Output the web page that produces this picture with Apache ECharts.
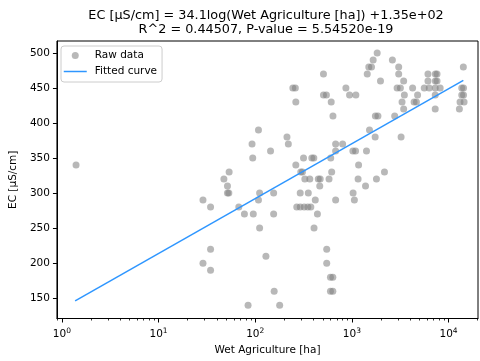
<!DOCTYPE html>
<html><head><meta charset="utf-8">
<script src="https://cdn.jsdelivr.net/npm/echarts@6/dist/echarts.min.js"></script>
<style>html,body{margin:0;padding:0;background:#fff}#c{width:480px;height:361px}</style>
</head><body><div id="c"></div>
<script>
const agricultureHa = [1.40,28.8,34.5,53.7,47.4,51.6,51.6,53.3,34.5,28.8,34.5,67.6,77.3,95.5,111,108,155,155,111,129,157,84.3,179,108,92.7,94.2,144,213,220,263,316,385,404,245,260,263,508,508,545,611,637,867,946,1099,296,308,326,367,292,354,418,269,292,321,350,376,440,406,449,470,465,580,618,549,549,600,635,600,635,679,1029,1061,1159,604,679,802,679,1024,1091,1173,1416,1384,1795,2173,1521,1741,3228,1750,1860,2773,1827,1660,1496,1596,1442,1976,2624,3050,3050,3433,2937,3175,4248,3491,4784,3304,4400,4650,3433,5607,6124,6124,6310,7300,7600,7300,7600,7280,8190,7280,7280,14230,13700,14300,13700,14300,13150,14480,12950];
const ecValues = [340,290,280,330,320,310,300,300,220,200,190,280,270,270,300,290,300,270,250,210,160,140,140,390,370,350,360,380,370,340,350,350,350,450,450,430,470,440,440,430,410,450,440,440,330,330,320,320,300,300,290,280,280,280,280,280,270,250,320,320,310,320,330,220,200,180,180,160,160,290,300,290,320,350,370,370,360,360,360,340,360,310,320,330,390,380,380,410,410,410,500,490,480,480,470,460,490,480,470,460,450,450,450,440,440,430,430,430,420,450,470,460,450,470,470,460,460,450,450,440,420,480,450,450,440,440,430,430,420];
const fitX = [1.37, 14230];
const fitY = [146, 461];
const yTicks = [150,200,250,300,350,400,450,500];
const xMajorTicks = [1,10,100,1000,10000];
const xMinorTicks = [0.9,2,3,4,5,6,7,8,9,20,30,40,50,60,70,80,90,200,300,400,500,600,700,800,900,2000,3000,4000,5000,6000,7000,8000,9000,20000];
const titleLine1 = 'EC [µS/cm] = 34.1log(Wet Agriculture [ha]) +1.35e+02';
const titleLine2 = 'R^2 = 0.44507, P-value = 5.54520e-19';
const xName = 'Wet Agriculture [ha]';
const yName = 'EC [µS/cm]';

const FF = 'DejaVu Sans';
const FS = 10.5;
const LINE_COLOR = '#2e96ff';
const rawData = agricultureHa.map((x, i) => [x, ecValues[i]]);
const fitData = fitX.map((x, i) => [x, fitY[i]]);
const XMIN = 0.888, XMAX = 20175;

const chart = echarts.init(document.getElementById('c'), null, {renderer: 'canvas'});
chart.setOption({
  animation: false,
  grid: {left: 55, right: 2, top: 41, bottom: 38, show: true, borderColor: '#000', borderWidth: 1, backgroundColor: 'transparent'},
  graphic: [{
    type: 'text', x: 266, y: 9, z: 100,
    style: {text: titleLine1 + '\n' + titleLine2, font: '12.8px "DejaVu Sans"', textAlign: 'center', fill: '#000', lineHeight: 13.5}
  }],
  legend: {
    left: 61, top: 46, orient: 'vertical',
    itemWidth: 23, itemHeight: 7, itemGap: 4,
    padding: [3.5, 5, 4.5, 2],
    borderColor: '#cccccc', borderWidth: 1, borderRadius: 3,
    backgroundColor: 'rgba(255,255,255,0.8)',
    textStyle: {fontSize: FS, fontFamily: FF, color: '#000', lineHeight: 12, padding: [0, 0, 0, 3]},
    data: [
      {name: 'Raw data', icon: 'circle'},
      {name: 'Fitted curve', icon: 'line', itemStyle: {color: LINE_COLOR, borderColor: LINE_COLOR, borderWidth: 1.5}}
    ]
  },
  xAxis: [{
    type: 'log', logBase: 10, min: XMIN, max: XMAX,
    name: xName, nameLocation: 'middle', nameGap: 26.5,
    nameTextStyle: {fontSize: FS, fontFamily: FF, color: '#000'},
    axisLine: {show: true, onZero: false, lineStyle: {color: '#000', width: 1}},
    axisTick: {show: true, length: 4, lineStyle: {color: '#000'}, customValues: xMajorTicks},
    axisLabel: {
      show: true, margin: 8.5, customValues: xMajorTicks,
      formatter: v => '{b|10}{s|' + Math.round(Math.log10(v)) + '}',
      rich: {b: {fontSize: FS, fontFamily: FF, color: '#000', verticalAlign: 'bottom'},
             s: {fontSize: 7.5, fontFamily: FF, color: '#000', verticalAlign: 'bottom', padding: [0, 0, 5, 0]}}
    },
    splitLine: {show: false}, minorTick: {show: false}
  }, {
    type: 'log', logBase: 10, min: XMIN, max: XMAX, position: 'bottom',
    axisLine: {show: false},
    axisTick: {show: true, length: 2, lineStyle: {color: '#000', width: 0.8}, customValues: xMinorTicks},
    axisLabel: {show: false}, splitLine: {show: false}
  }],
  yAxis: {
    type: 'value', min: 120.9, max: 517.3,
    name: yName, nameLocation: 'middle', nameGap: 36,
    nameTextStyle: {fontSize: FS, fontFamily: FF, color: '#000'},
    axisLine: {show: true, onZero: false, lineStyle: {color: '#000', width: 1}},
    axisTick: {show: true, length: 4, lineStyle: {color: '#000'}, customValues: yTicks},
    axisLabel: {show: true, margin: 7, fontSize: FS, fontFamily: FF, color: '#000', customValues: yTicks},
    splitLine: {show: false}
  },
  series: [{
    name: 'Raw data', type: 'scatter', data: rawData, symbol: 'circle', symbolSize: 7,
    itemStyle: {color: 'rgba(128,128,128,0.7)'}, emphasis: {disabled: true}, z: 2
  }, {
    name: 'Fitted curve', type: 'line', data: fitData, symbol: 'none', showSymbol: false,
    lineStyle: {color: LINE_COLOR, width: 1.5}, itemStyle: {color: LINE_COLOR},
    emphasis: {disabled: true}, z: 3
  }]
});
</script></body></html>
